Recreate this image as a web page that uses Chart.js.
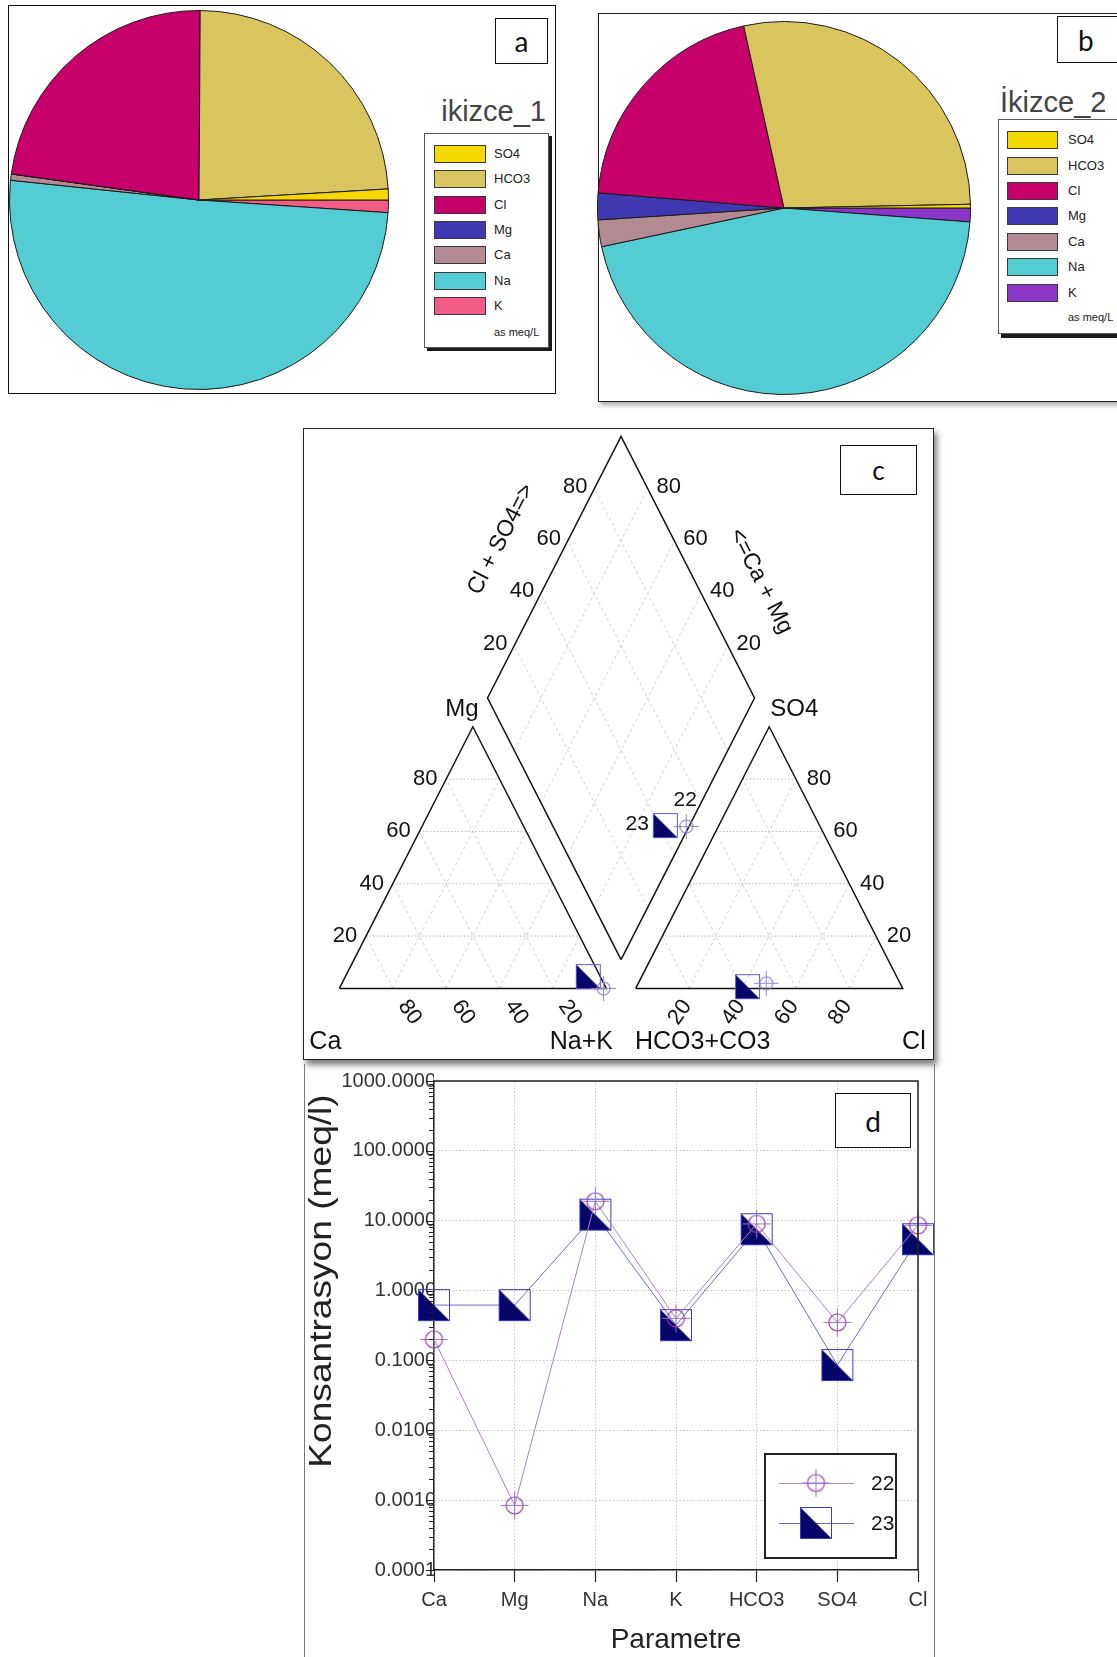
<!DOCTYPE html>
<html>
<head>
<meta charset="utf-8">
<title>İkizce su kimyası</title>
<script src="https://cdn.jsdelivr.net/npm/chart.js@4.4.1/dist/chart.umd.min.js"></script>
<style>
  html, body { margin:0; padding:0; width:1117px; height:1657px; overflow:hidden; background:#fff; }
  body { position:relative; font-family:"Liberation Sans", Arial, Helvetica, sans-serif; }
  .box { position:absolute; box-sizing:border-box; }
  canvas { position:absolute; }
  .tag { position:absolute; box-sizing:border-box; border:1.5px solid #111; background:#fff;
         display:flex; align-items:center; justify-content:center;
         font-family:Lato, "Open Sans", sans-serif; color:#111; line-height:1; }
  .legend { position:absolute; box-sizing:border-box; border:1px solid #555; background:#fff; }
  .swatch { position:absolute; box-sizing:border-box; border:1px solid #3a3a3a; }
  .ltxt { position:absolute; color:#222; white-space:nowrap; font-size:13px; line-height:16px; }
  .ttl { position:absolute; color:#444; white-space:nowrap; line-height:1; }
</style>
</head>
<body>
<div class="box" style="left:8px;top:5px;width:548px;height:389px;border:1.5px solid #111;"></div>
<div class="box" style="left:598px;top:13px;width:540px;height:389px;border:1.5px solid #222;box-shadow:2px 3px 5px rgba(0,0,0,.35);"></div>
<div class="box" style="left:303px;top:428px;width:631px;height:632px;border:1.5px solid #222;box-shadow:3px 5px 6px rgba(0,0,0,.5);background:#fff;"></div>
<div class="box" style="left:304px;top:1064px;width:631px;height:600px;border-left:1px solid #777;border-right:1px solid #777;"></div>

<canvas id="pieA" width="380" height="380" style="left:9px;top:10px"></canvas>
<canvas id="pieB" width="374" height="374" style="left:597px;top:21px"></canvas>
<canvas id="piper" width="631" height="632" style="left:303px;top:428px"></canvas>
<canvas id="schoeller" width="631" height="597" style="left:303px;top:1060px"></canvas>
<div id="legends"></div>

<div class="tag" style="left:495px;top:18px;width:53px;height:46px;font-size:28px;">a</div>
<div class="tag" style="left:1057px;top:16px;width:80px;height:47px;font-size:28px;justify-content:flex-start;padding-left:20px;">b</div>
<div class="tag" style="left:840px;top:445px;width:77px;height:50px;font-size:26px;">c</div>
<div class="tag" style="left:835px;top:1093px;width:76px;height:55px;font-size:28px;">d</div>

<script>
// ---------- data (meq/l) ----------
const ions      = ['Ca', 'Mg', 'Na', 'K', 'HCO3', 'SO4', 'Cl'];
const sample22  = [0.2, 0.00084, 19, 0.4, 9.0, 0.35, 8.6];
const sample23  = [0.62, 0.62, 12.2, 0.32, 7.55, 0.086, 5.43];
const sampleIds = ['22', '23'];

const pieTitles = ['ikizce_1', 'İkizce_2'];
const pieOrder  = ['SO4', 'HCO3', 'Cl', 'Mg', 'Ca', 'Na', 'K'];
const pieUnit   = 'as meq/L';

const logTicks      = [0.0001, 0.001, 0.01, 0.1, 1, 10, 100, 1000];
const logTickLabels = ['0.0001', '0.0010', '0.0100', '0.1000', '1.0000', '10.0000', '100.0000', '1000.0000'];
const piperTicks    = [20, 40, 60, 80];

const xTitle = 'Parametre';
const yTitle = 'Konsantrasyon (meq/l)';

// ---------- styles ----------
const FONT = '"Liberation Sans", Arial, Helvetica, sans-serif';
const pieColorsA = ['#f4d800', '#d9c45e', '#c8006c', '#4038b0', '#b48a92', '#54ccd4', '#f25c86'];
const pieColorsB = ['#f4d800', '#d9c45e', '#c8006c', '#4038b0', '#b48a92', '#54ccd4', '#8c36c8'];

const val = (s, ion) => s[ions.indexOf(ion)];

// ---------- pie charts ----------
function makePie(id, sample, colors) {
  const vals = pieOrder.map(k => val(sample, k));
  new Chart(document.getElementById(id), {
    type: 'pie',
    data: {
      labels: pieOrder.slice().reverse(),
      datasets: [{
        data: vals.slice().reverse(),
        backgroundColor: colors.slice().reverse(),
        borderColor: '#1a1a1a',
        borderWidth: 1
      }]
    },
    options: {
      responsive: false, animation: false, rotation: 90,
      layout: { padding: 0 },
      plugins: { legend: { display: false }, tooltip: { enabled: false } }
    }
  });
}
makePie('pieA', sample22, pieColorsA);
makePie('pieB', sample23, pieColorsB);

function addPieLegend(o) {
  const root = document.getElementById('legends');
  const t = document.createElement('div');
  t.className = 'ttl';
  t.textContent = o.title;
  t.style.cssText += o.titlePos + `font-size:${o.titleSize}px;`;
  root.appendChild(t);
  const box = document.createElement('div');
  box.className = 'legend';
  box.style.cssText += `left:${o.box[0]}px;top:${o.box[1]}px;width:${o.box[2]}px;height:${o.box[3]}px;box-shadow:${o.shadow};`;
  root.appendChild(box);
  pieOrder.forEach((name, i) => {
    const cy = o.row0 + i * o.step;
    const sw = document.createElement('div');
    sw.className = 'swatch';
    sw.style.cssText += `left:${o.swX}px;top:${cy - o.swH / 2}px;width:${o.swW}px;height:${o.swH}px;background:${o.colors[i]};`;
    root.appendChild(sw);
    const lb = document.createElement('div');
    lb.className = 'ltxt';
    lb.textContent = name;
    lb.style.cssText += `left:${o.labX}px;top:${cy - 8}px;`;
    root.appendChild(lb);
  });
  const u = document.createElement('div');
  u.className = 'ltxt';
  u.textContent = pieUnit;
  u.style.cssText += `left:${o.labX}px;top:${o.unitY - 8}px;font-size:11px;`;
  root.appendChild(u);
}
addPieLegend({
  title: pieTitles[0], titlePos: 'right:571px;top:97px;', titleSize: 29,
  box: [423.5, 133, 125, 215], shadow: '3px 3px 0 #1a1a1a',
  row0: 154, step: 25.3, swX: 434, swW: 52, swH: 18, labX: 494, unitY: 331.5, colors: pieColorsA
});
addPieLegend({
  title: pieTitles[1], titlePos: 'left:1000px;top:88px;', titleSize: 29,
  box: [997.5, 118.5, 140, 215], shadow: '3px 4px 0 #1a1a1a',
  row0: 140.4, step: 25.35, swX: 1006.5, swW: 51.5, swH: 18, labX: 1068, unitY: 317, colors: pieColorsB
});

// ---------- markers ----------
function makeCircleMarker(r, arm, ring, cross) {
  const n = Math.ceil(arm) * 2 + 3;
  const c = document.createElement('canvas');
  c.width = c.height = n;
  const g = c.getContext('2d');
  const m = n / 2;
  g.strokeStyle = cross; g.lineWidth = 1;
  g.beginPath();
  g.moveTo(m - arm, m); g.lineTo(m + arm, m);
  g.moveTo(m, m - arm); g.lineTo(m, m + arm);
  g.stroke();
  g.strokeStyle = ring; g.lineWidth = 1.2;
  g.beginPath(); g.arc(m, m, r, 0, Math.PI * 2); g.stroke();
  return c;
}
function makeSquareMarker(size, fill, edge) {
  const n = size + 2;
  const c = document.createElement('canvas');
  c.width = c.height = n;
  const g = c.getContext('2d');
  g.fillStyle = fill;
  g.beginPath(); g.moveTo(1, 1); g.lineTo(1, size + 1); g.lineTo(size + 1, size + 1); g.closePath(); g.fill();
  g.strokeStyle = edge; g.lineWidth = 1;
  g.strokeRect(1.5, 1.5, size - 1, size - 1);
  return c;
}
const mk22  = makeCircleMarker(8.5, 14, '#9a3cb0', '#a070c8');
const mk23  = makeSquareMarker(32, '#06066a', '#3c3cc8');
const mk22p = makeCircleMarker(6.5, 12.5, '#9c7ccc', '#8c8cd4');
const mk23p = makeSquareMarker(25, '#06066a', '#5a5ad0');

// ---------- Piper diagram ----------
const GAP = 11;      // horizontal gap between the two triangles (triangle base = 100)
const TRI_H = 98;    // drawn height of each triangle
const dBase = { x: 100 + GAP / 2, y: GAP / 2 * TRI_H / 50 };

function cationXY(ca, mg, nak) {
  const t = ca + mg + nak;
  return { x: 100 * (nak + mg / 2) / t, y: TRI_H * mg / t };
}
function anionXY(hco3, so4, cl) {
  const t = hco3 + so4 + cl;
  return { x: 100 + GAP + 100 * (cl + so4 / 2) / t, y: TRI_H * so4 / t };
}
function diamondXY(clso4, camg) {
  return { x: dBase.x + 50 * clso4 - 50 * camg, y: dBase.y + TRI_H * (clso4 + camg) };
}
function piperPoints(s) {
  const g = k => val(s, k);
  const cat = g('Ca') + g('Mg') + g('Na') + g('K');
  const an = g('HCO3') + g('SO4') + g('Cl');
  return [
    cationXY(g('Ca'), g('Mg'), g('Na') + g('K')),
    anionXY(g('HCO3'), g('SO4'), g('Cl')),
    diamondXY((g('Cl') + g('SO4')) / an, (g('Ca') + g('Mg')) / cat)
  ];
}

const gap = { x: null, y: null };
const gridH = [], gridD = [], outline = [];
const seg = (list, pts) => { list.push(...pts, gap); };
piperTicks.forEach(v => {
  const f = v / 100;
  seg(gridH, [cationXY(1 - f, f, 0), cationXY(0, f, 1 - f)]);
  seg(gridD, [cationXY(f, 0, 1 - f), cationXY(f, 1 - f, 0)]);
  seg(gridD, [cationXY(1 - f, 0, f), cationXY(0, 1 - f, f)]);
  seg(gridH, [anionXY(1 - f, f, 0), anionXY(0, f, 1 - f)]);
  seg(gridD, [anionXY(f, 0, 1 - f), anionXY(f, 1 - f, 0)]);
  seg(gridD, [anionXY(1 - f, 0, f), anionXY(0, 1 - f, f)]);
  seg(gridD, [diamondXY(f, 0), diamondXY(f, 1)]);
  seg(gridD, [diamondXY(0, f), diamondXY(1, f)]);
});
seg(outline, [cationXY(1, 0, 0), cationXY(0, 0, 1), cationXY(0, 1, 0), cationXY(1, 0, 0)]);
seg(outline, [anionXY(1, 0, 0), anionXY(0, 0, 1), anionXY(0, 1, 0), anionXY(1, 0, 0)]);
seg(outline, [diamondXY(0, 0), diamondXY(1, 0), diamondXY(1, 1), diamondXY(0, 1), diamondXY(0, 0)]);

const lineSet = (data, color, width, dash, order) => ({
  data, showLine: true, pointRadius: 0, borderColor: color, borderWidth: width,
  borderDash: dash, spanGaps: false, clip: false, order
});

const piperLabels = {
  id: 'piperLabels',
  afterDatasetsDraw(chart) {
    const { ctx, scales: { x, y } } = chart;
    const P = p => ({ x: x.getPixelForValue(p.x), y: y.getPixelForValue(p.y) });
    const text = (s, p, dx, dy, size, align = 'center', rot = 0) => {
      ctx.save();
      ctx.translate(p.x + dx, p.y + dy);
      ctx.rotate(rot);
      ctx.font = `${size}px ${FONT}`;
      ctx.fillStyle = '#111';
      ctx.textAlign = align;
      ctx.textBaseline = 'middle';
      ctx.fillText(s, 0, 0);
      ctx.restore();
    };
    const r55 = 55 * Math.PI / 180;
    piperTicks.forEach(v => {
      const f = v / 100, s = String(v);
      text(s, P(cationXY(1 - f, f, 0)), -21, 0, 22);
      text(s, P(anionXY(0, f, 1 - f)), 23, 0, 22);
      text(s, P(cationXY(f, 0, 1 - f)), 17, 24, 22, 'center', r55);
      text(s, P(anionXY(1 - f, 0, f)), -9, 24, 22, 'center', -r55);
      text(s, P(diamondXY(f, 1)), -19, -2, 22);
      text(s, P(diamondXY(1, f)), 21, -2, 22);
    });
    const L = P(diamondXY(0, 1)), T = P(diamondXY(1, 1)), R = P(diamondXY(1, 0));
    text('Cl + SO4=>', P(diamondXY(0.5, 1)), -53, -28, 23, 'center', Math.atan2(T.y - L.y, T.x - L.x));
    text('<=Ca + Mg', P(diamondXY(1, 0.5)), 73, 14, 23, 'center', Math.atan2(R.y - T.y, R.x - T.x));
    text('Mg', P(cationXY(0, 1, 0)), -11, -17, 24);
    text('SO4', P(anionXY(0, 1, 0)), 25, -17, 24);
    text('Ca', P(cationXY(1, 0, 0)), -30, 54, 25, 'left');
    text('Na+K', P(cationXY(0, 0, 1)), -25, 54, 25);
    text('HCO3+CO3', P(anionXY(1, 0, 0)), 67, 54, 25);
    text('Cl', P(anionXY(0, 0, 1)), 23, 54, 25, 'right');
    // sample ids next to the diamond points
    const m22 = chart.getDatasetMeta(0).data[2], m23 = chart.getDatasetMeta(1).data[2];
    text(sampleIds[0], { x: m22.x, y: m22.y }, -1, -26, 21);
    text(sampleIds[1], { x: m23.x, y: m23.y }, -16.5, -1, 21, 'right');
  }
};

new Chart(document.getElementById('piper'), {
  type: 'scatter',
  data: {
    datasets: [
      { data: piperPoints(sample22), pointStyle: mk22p, pointRadius: 6, clip: false, order: 0 },
      { data: piperPoints(sample23), pointStyle: mk23p, pointRadius: 6, clip: false, order: 1 },
      lineSet(outline, '#111', 1.5, [], 2),
      lineSet(gridH, '#b4b4b4', 1, [1.5, 2], 3),
      lineSet(gridD, '#cfcfcf', 1, [3, 3], 4)
    ]
  },
  options: {
    responsive: false, animation: false,
    layout: { padding: 0 },
    scales: {
      x: { type: 'linear', display: false, min: -11, max: 220.1 },
      y: { type: 'linear', display: false, min: -24.2, max: 207.3 }
    },
    plugins: { legend: { display: false }, tooltip: { enabled: false } }
  },
  plugins: [piperLabels]
});

// ---------- Schoeller diagram ----------
const schoellerDecor = {
  id: 'schoellerDecor',
  afterDraw(chart) {
    const { ctx, chartArea: a, scales: { y } } = chart;
    ctx.save();
    ctx.strokeStyle = '#222';
    ctx.lineWidth = 1.5;
    ctx.beginPath();
    ctx.moveTo(a.left, a.top); ctx.lineTo(a.right, a.top); ctx.lineTo(a.right, a.bottom);
    ctx.stroke();
    // log minor/major ticks on the value axis
    ctx.lineWidth = 1;
    ctx.beginPath();
    for (let e = -4; e <= 3; e++) {
      for (let m = 1; m <= 9; m++) {
        if (e === 3 && m > 1) break;
        const py = Math.round(y.getPixelForValue(m * Math.pow(10, e))) + 0.5;
        const len = m === 1 ? 8 : 5;
        ctx.moveTo(a.left - len, py); ctx.lineTo(a.left, py);
      }
    }
    ctx.stroke();

    // value-axis title (the figure is drawn slightly stretched vertically)
    ctx.save();
    ctx.translate(19, 221);
    ctx.rotate(-Math.PI / 2);
    ctx.scale(1.16, 1);
    ctx.font = `32px ${FONT}`;
    ctx.fillStyle = '#222';
    ctx.textAlign = 'center';
    ctx.textBaseline = 'middle';
    ctx.fillText(yTitle, 0, 0);
    ctx.restore();

    // legend
    const bx = a.left + 331, by = a.top + 373, bw = 131, bh = 104;
    ctx.fillStyle = '#fff';
    ctx.fillRect(bx, by, bw, bh);
    ctx.strokeStyle = '#222';
    ctx.lineWidth = 2;
    ctx.strokeRect(bx, by, bw, bh);
    const rows = [
      { id: sampleIds[0], color: '#b486c8', mk: mk22, y: by + 29 },
      { id: sampleIds[1], color: '#6c6cc0', mk: mk23, y: by + 69 }
    ];
    rows.forEach(r => {
      ctx.strokeStyle = r.color;
      ctx.lineWidth = 1;
      ctx.beginPath(); ctx.moveTo(bx + 14, r.y + 0.5); ctx.lineTo(bx + 89, r.y + 0.5); ctx.stroke();
      ctx.drawImage(r.mk, bx + 51 - r.mk.width / 2, r.y - r.mk.height / 2);
      ctx.fillStyle = '#111';
      ctx.font = `21px ${FONT}`;
      ctx.textAlign = 'left';
      ctx.textBaseline = 'middle';
      ctx.fillText(r.id, bx + 106, r.y + 1);
    });
    ctx.restore();
  }
};

new Chart(document.getElementById('schoeller'), {
  type: 'line',
  data: {
    labels: ions,
    datasets: [
      { label: sampleIds[0], data: sample22, borderColor: '#b07ec4', borderWidth: 1,
        pointStyle: mk22, pointRadius: 6, clip: false, order: 0, tension: 0 },
      { label: sampleIds[1], data: sample23, borderColor: '#6c6cc0', borderWidth: 1,
        pointStyle: mk23, pointRadius: 6, clip: false, order: 1, tension: 0 }
    ]
  },
  options: {
    responsive: false, animation: false,
    layout: { padding: { top: 21, right: 16, left: 0, bottom: 0 } },
    scales: {
      x: {
        type: 'category', offset: false,
        grid: { color: '#c4c4c4', lineWidth: 1, drawTicks: true, tickLength: 12, tickColor: '#222', tickWidth: 1.2 },
        border: { display: true, color: '#222', width: 1.5, dash: [1.5, 2] },
        ticks: { color: '#333', font: { size: 20, family: FONT }, padding: 6, autoSkip: false, maxRotation: 0 },
        title: { display: true, text: xTitle, color: '#222', font: { size: 28, family: FONT }, padding: 0 },
        afterFit: s => { s.height = 87; }
      },
      y: {
        type: 'logarithmic', min: 0.0001, max: 1000,
        afterBuildTicks: s => { s.ticks = logTicks.map(v => ({ value: v })); },
        grid: { color: '#c4c4c4', lineWidth: 1, drawTicks: false },
        border: { display: true, color: '#222', width: 1.5, dash: [1.5, 2] },
        ticks: { color: '#333', font: { size: 20, family: FONT }, padding: -2,
                 callback: (v, i) => logTickLabels[i] },
        title: { display: false },
        afterFit: s => { s.width = 131; }
      }
    },
    plugins: { legend: { display: false }, tooltip: { enabled: false } }
  },
  plugins: [schoellerDecor]
});
</script>
</body>
</html>
